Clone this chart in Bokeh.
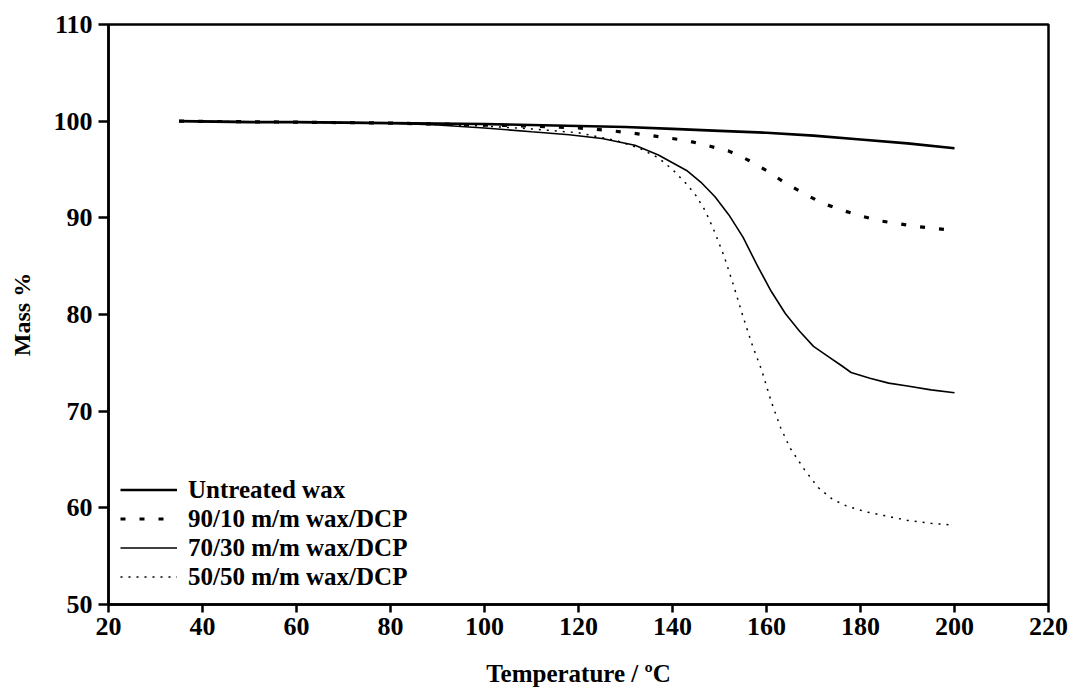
from bokeh.plotting import figure
from bokeh.models import Range1d, FixedTicker, Legend, LegendItem
from bokeh.embed import file_html
from bokeh.resources import INLINE

# ---- data ----
untreated_x = [35, 50, 60, 80, 100, 110, 120, 130, 140, 150, 160, 170, 180, 190, 200]
untreated_y = [100.0, 99.9, 99.9, 99.8, 99.7, 99.6, 99.5, 99.4, 99.2, 99.0, 98.8, 98.5, 98.1, 97.7, 97.2]

dcp10_x = [35, 60, 80, 100, 110, 120, 125, 131, 137, 143, 148, 152, 156, 160, 164, 168,
           172, 176, 180, 184, 188, 192, 196, 200]
dcp10_y = [100.0, 99.9, 99.8, 99.6, 99.5, 99.3, 99.1, 98.8, 98.4, 98.0, 97.4, 96.9, 96.0, 94.9,
           93.6, 92.5, 91.5, 90.8, 90.2, 89.7, 89.4, 89.1, 88.9, 88.7]

dcp30_x = [35, 60, 80, 90, 100, 110, 118, 125, 132, 137, 140, 143, 146, 149, 152, 155, 158,
           161, 164, 167, 170, 173, 176, 178, 182, 186, 190, 195, 200]
dcp30_y = [100.0, 99.9, 99.8, 99.6, 99.3, 98.9, 98.6, 98.2, 97.5, 96.5, 95.7, 94.9, 93.7, 92.2,
           90.3, 88.0, 85.1, 82.4, 80.1, 78.3, 76.7, 75.7, 74.7, 74.0, 73.4, 72.9, 72.6, 72.2, 71.9]

dcp50_x = [35, 60, 80, 100, 110, 120, 128, 133, 137, 140, 143, 145, 147, 149, 151, 153, 155,
           157, 159, 161, 163, 165, 168, 171, 174, 177, 181, 185, 190, 195, 200]
dcp50_y = [100.0, 99.9, 99.8, 99.5, 99.2, 98.8, 98.0, 97.2, 96.2, 95.0, 93.5, 92.3, 90.7, 88.5,
           86.0, 83.0, 79.8, 76.8, 74.2, 71.0, 68.3, 66.2, 64.0, 62.1, 60.9, 60.2, 59.6, 59.2,
           58.7, 58.4, 58.2]

x_ticks = [20, 40, 60, 80, 100, 120, 140, 160, 180, 200, 220]
y_ticks = [50, 60, 70, 80, 90, 100, 110]

labels = ["Untreated wax", "90/10 m/m wax/DCP", "70/30 m/m wax/DCP", "50/50 m/m wax/DCP"]

FONT = "Liberation Serif"

p = figure(frame_width=940, frame_height=580, output_backend="svg", toolbar_location=None,
           x_range=Range1d(20, 220), y_range=Range1d(50, 110),
           min_border_left=108, min_border_right=26, min_border_top=24, min_border_bottom=91)

r1 = p.line(untreated_x, untreated_y, line_color="black", line_width=2.6)
r2 = p.line(dcp10_x, dcp10_y, line_color="black", line_width=3.2, line_dash="5 14")
r3 = p.line(dcp30_x, dcp30_y, line_color="black", line_width=1.6)
r4 = p.line(dcp50_x, dcp50_y, line_color="black", line_width=1.5, line_dash="2 6")

p.xgrid.visible = False
p.ygrid.visible = False
p.outline_line_color = "black"
p.outline_line_width = 2.5
p.background_fill_color = "white"
p.border_fill_color = "white"

p.xaxis.ticker = FixedTicker(ticks=x_ticks)
p.yaxis.ticker = FixedTicker(ticks=y_ticks)
for ax in (p.xaxis, p.yaxis):
    ax.axis_line_width = 2.5
    ax.axis_line_color = "black"
    ax.major_tick_line_width = 2.5
    ax.major_tick_line_color = "black"
    ax.major_tick_in = 0
    ax.minor_tick_line_color = None
    ax.major_label_text_font = FONT
    ax.major_label_text_font_style = "bold"
    ax.major_label_text_color = "black"
    ax.axis_label_text_font = FONT
    ax.axis_label_text_font_style = "bold"
    ax.axis_label_text_color = "black"

p.xaxis.major_tick_out = 8
p.yaxis.major_tick_out = 10
p.xaxis.major_label_text_font_size = "26px"
p.yaxis.major_label_text_font_size = "26px"
p.xaxis.major_label_standoff = 5
p.yaxis.major_label_standoff = 6
p.xaxis.axis_label = "Temperature / \u00baC"
p.yaxis.axis_label = "Mass %"
p.xaxis.axis_label_text_font_size = "25px"
p.yaxis.axis_label_text_font_size = "24px"
p.xaxis.axis_label_standoff = 22
p.yaxis.axis_label_standoff = 16

legend = Legend(items=[LegendItem(label=labels[0], renderers=[r1]),
                       LegendItem(label=labels[1], renderers=[r2]),
                       LegendItem(label=labels[2], renderers=[r3]),
                       LegendItem(label=labels[3], renderers=[r4])],
                location=(12, 13))
legend.background_fill_alpha = 0
legend.border_line_color = None
legend.margin = 0
legend.padding = 0
legend.spacing = 0
legend.glyph_width = 57
legend.glyph_height = 29
legend.label_height = 29
legend.label_standoff = 11
legend.label_text_font = FONT
legend.label_text_font_style = "bold"
legend.label_text_font_size = "25px"
legend.label_text_color = "black"
p.add_layout(legend)

open("out.html", "w").write(file_html(p, INLINE))
